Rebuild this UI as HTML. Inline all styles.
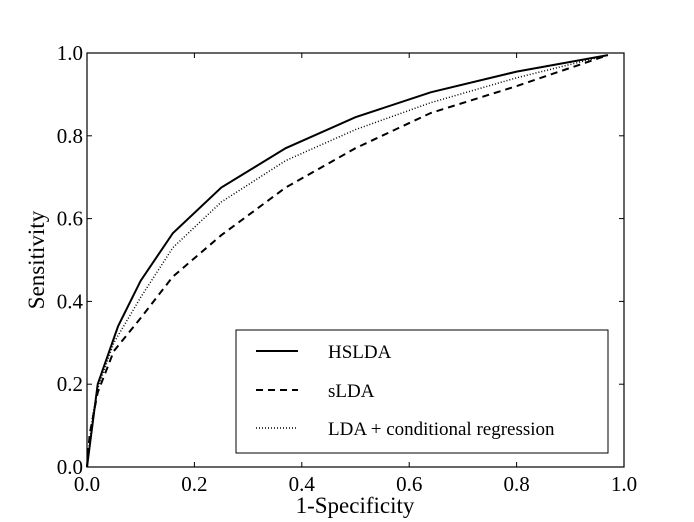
<!DOCTYPE html>
<html><head><meta charset="utf-8"><style>
html,body{margin:0;padding:0;background:#fff;width:694px;height:522px;overflow:hidden}
text{font-family:"Liberation Serif","DejaVu Serif",serif;fill:#000}
</style></head><body>
<svg id="chart" width="694" height="522" xmlns="http://www.w3.org/2000/svg">
<rect x="87" y="53" width="537" height="414" fill="#fff" stroke="#000" stroke-width="1.2"/>
<g id="ticks"></g>
<g id="series"></g>
<text x="355" y="513" font-size="23" text-anchor="middle">1-Specificity</text>
<text x="44" y="260" font-size="23" text-anchor="middle" transform="rotate(-90 44 260)">Sensitivity</text>
<g>
<rect x="236" y="330" width="372" height="123" fill="#fff" stroke="#000" stroke-width="1"/>
<line x1="256" y1="351" x2="298" y2="351" stroke="#000" stroke-width="2"/>
<text x="328" y="358" font-size="19">HSLDA</text>
<line x1="256" y1="390" x2="298" y2="390" stroke="#000" stroke-width="2" stroke-dasharray="7,5"/>
<text x="328" y="397" font-size="19">sLDA</text>
<line x1="256" y1="428" x2="298" y2="428" stroke="#000" stroke-width="1.5" stroke-dasharray="1,2"/>
<text x="328" y="435" font-size="19">LDA + conditional regression</text>
</g>
</svg>
<script>
const xTicks=[0,0.2,0.4,0.6,0.8,1.0];
const yTicks=[0,0.2,0.4,0.6,0.8,1.0];
const tickLabels=["0.0","0.2","0.4","0.6","0.8","1.0"];
const hsldaX=[0,0.02,0.058,0.1,0.16,0.25,0.37,0.5,0.64,0.8,0.97];
const hsldaY=[0,0.2,0.34,0.45,0.565,0.675,0.77,0.845,0.905,0.955,0.995];
const sldaX=[0,0.005,0.02,0.05,0.1,0.16,0.25,0.37,0.5,0.64,0.8,0.97];
const sldaY=[0,0.08,0.18,0.28,0.36,0.46,0.56,0.675,0.77,0.855,0.92,0.995];
const ldaX=[0,0.01,0.02,0.05,0.1,0.16,0.25,0.37,0.5,0.64,0.8,0.97];
const ldaY=[0,0.12,0.19,0.3,0.41,0.53,0.64,0.74,0.815,0.88,0.94,0.995];
const L=87,R=624,T=53,B=467;
const sx=v=>L+v*(R-L), sy=v=>B-v*(B-T);
const NS="http://www.w3.org/2000/svg";
const tg=document.getElementById('ticks');
function mk(tag,a,p){const e=document.createElementNS(NS,tag);for(const k in a)e.setAttribute(k,a[k]);p.appendChild(e);return e;}
xTicks.forEach((v,i)=>{
  const x=sx(v);
  const t1=mk('line',{x1:x,y1:B,x2:x,y2:B-5,stroke:'#000'},tg);
  
  
  const t2=mk('line',{x1:x,y1:T,x2:x,y2:T+5,stroke:'#000'},tg);
  
  
  const tx=mk('text',{x:x,y:B+24,'font-size':21,'text-anchor':'middle'},tg);
  tx.textContent=tickLabels[i];
  
  
});
yTicks.forEach((v,i)=>{
  const y=sy(v);
  const t1=mk('line',{x1:L,y1:y,x2:L+5,y2:y,stroke:'#000'},tg);
  
  
  const t2=mk('line',{x1:R,y1:y,x2:R-5,y2:y,stroke:'#000'},tg);
  
  
  const tx=mk('text',{x:L-4,y:y+7,'font-size':21,'text-anchor':'end'},tg);
  tx.textContent=tickLabels[i];
  
  
});
const sg=document.getElementById('series');
function line(xs,ys,dash,w,name){
  const d=xs.map((x,i)=>(i?'L':'M')+sx(x).toFixed(1)+','+sy(ys[i]).toFixed(1)).join(' ');
  const p=mk('path',{d:d,fill:'none',stroke:'#000','stroke-width':w},sg);
  if(dash)p.setAttribute('stroke-dasharray',dash);
  
  
}
line(ldaX,ldaY,'1,2',1.5,'lda-line');
line(sldaX,sldaY,'7,5',2,'slda-line');
line(hsldaX,hsldaY,null,2,'hslda-line');
</script>
</body></html>
